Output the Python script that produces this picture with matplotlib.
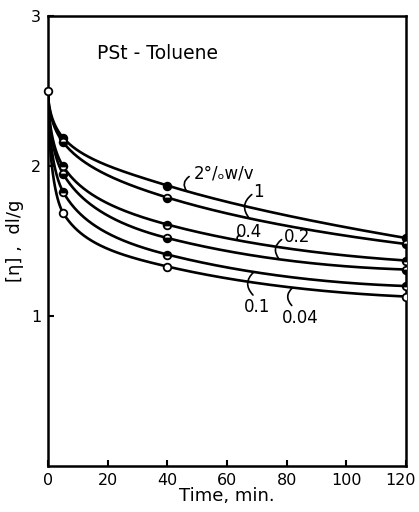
import numpy as np
import matplotlib
matplotlib.use("Agg")
import matplotlib.pyplot as plt
from matplotlib.transforms import ScaledTranslation

# ---- data ----
time_min = [0, 5, 40, 120]
conc_labels = ["2°/ₒw/v", "1", "0.4", "0.2", "0.1", "0.04"]
eta_2 = [2.50, 2.19, 1.87, 1.52]
eta_1 = [2.50, 2.16, 1.79, 1.48]
eta_04 = [2.50, 2.00, 1.61, 1.37]
eta_02 = [2.50, 1.95, 1.52, 1.31]
eta_01 = [2.50, 1.83, 1.41, 1.20]
eta_004 = [2.50, 1.69, 1.33, 1.13]
series = [eta_2, eta_1, eta_04, eta_02, eta_01, eta_004]

x_ticks = [0, 20, 40, 60, 80, 100, 120]
y_ticks = [1, 2, 3]


def pchip(xk, yk, xq):
    xk = np.asarray(xk, float); yk = np.asarray(yk, float)
    h = np.diff(xk); d = np.diff(yk) / h
    n = len(xk); m = np.zeros(n)
    for i in range(1, n - 1):
        if d[i - 1] * d[i] > 0:
            w1 = 2 * h[i] + h[i - 1]; w2 = h[i] + 2 * h[i - 1]
            m[i] = (w1 + w2) / (w1 / d[i - 1] + w2 / d[i])
    m[0] = ((2 * h[0] + h[1]) * d[0] - h[0] * d[1]) / (h[0] + h[1])
    if np.sign(m[0]) != np.sign(d[0]): m[0] = 0
    m[-1] = ((2 * h[-1] + h[-2]) * d[-1] - h[-1] * d[-2]) / (h[-1] + h[-2])
    if np.sign(m[-1]) != np.sign(d[-1]): m[-1] = 0
    idx = np.clip(np.searchsorted(xk, xq) - 1, 0, n - 2)
    t = (xq - xk[idx]) / h[idx]
    h00 = 2 * t**3 - 3 * t**2 + 1; h10 = t**3 - 2 * t**2 + t
    h01 = -2 * t**3 + 3 * t**2; h11 = t**3 - t**2
    return h00 * yk[idx] + h10 * h[idx] * m[idx] + h01 * yk[idx + 1] + h11 * h[idx] * m[idx + 1]


fig = plt.figure(figsize=(4.19, 5.12), dpi=100)
ax = fig.add_axes([0.1146, 0.0898, 0.8544, 0.8789])
ax.set_xlim(0, 120)
ax.set_ylim(0, 3)

xs = np.linspace(0, 120, 600)
sx = np.sqrt(np.asarray(time_min, float))
curves = []
for ys in series:
    yq = pchip(sx, ys, np.sqrt(xs))
    curves.append(yq)
    ax.plot(xs, yq, color="black", lw=1.9, zorder=2, solid_capstyle="butt")

fills = ["full", "bottom", "top", "bottom", "top", "none"]
for ys, fs in zip(series, fills):
    ax.plot(time_min[1:], ys[1:], "o", ms=5.5, color="black", mfc="black" if fs != "none" else "white",
            fillstyle=fs if fs != "none" else "full", markerfacecoloralt="white", mew=1.3,
            ls="none", zorder=3)
ax.plot([time_min[0]], [series[0][0]], "o", ms=5.5, mfc="white", mec="black", mew=1.3, zorder=4, clip_on=False)

# labels with leaders: (label x, label y, curve x)
lab_pos = [(48.8, 1.95, 46.5), (70.5, 1.83, 67.5), (67.5, 1.56, 63.5),
           (83.5, 1.53, 77.5), (70.0, 1.06, 69.0), (84.5, 0.99, 82.0)]
for i, (lx, ly, cx) in enumerate(lab_pos):
    cy = np.interp(cx, xs, curves[i])
    ax.text(lx, ly, conc_labels[i], fontsize=12, ha="left" if i == 0 else "center",
            va="center", family="DejaVu Sans")
    if i < 4:
        ty = ly - 0.02
        ax.annotate("", xy=(cx, cy), xytext=(cx + 0.8, ty),
                    arrowprops=dict(arrowstyle="-", lw=1.2, connectionstyle="arc3,rad=0.5",
                                    shrinkA=0, shrinkB=0))
    else:
        ty = ly + 0.08
        ax.annotate("", xy=(cx, cy), xytext=(cx - 0.3, ty),
                    arrowprops=dict(arrowstyle="-", lw=1.2, connectionstyle="arc3,rad=-0.5",
                                    shrinkA=0, shrinkB=0))

ax.text(16.5, 2.75, "PSt - Toluene", fontsize=13.5, ha="left", va="center")

ax.set_xticks(x_ticks)
ax.set_yticks(y_ticks)
ax.tick_params(direction="in", length=4, width=1.5, labelsize=11.5, pad=5)
for s in ax.spines.values():
    s.set_linewidth(1.8)
ax.set_xlabel("Time, min.", fontsize=13, labelpad=-1)
ax.set_ylabel("[η] ,  dl/g", fontsize=13, labelpad=5)

fig.canvas.draw()
last = ax.get_xticklabels()[-1]
last.set_transform(last.get_transform() + ScaledTranslation(-6 / 100, 0, fig.dpi_scale_trans))

fig.savefig("out.png", dpi=100)
